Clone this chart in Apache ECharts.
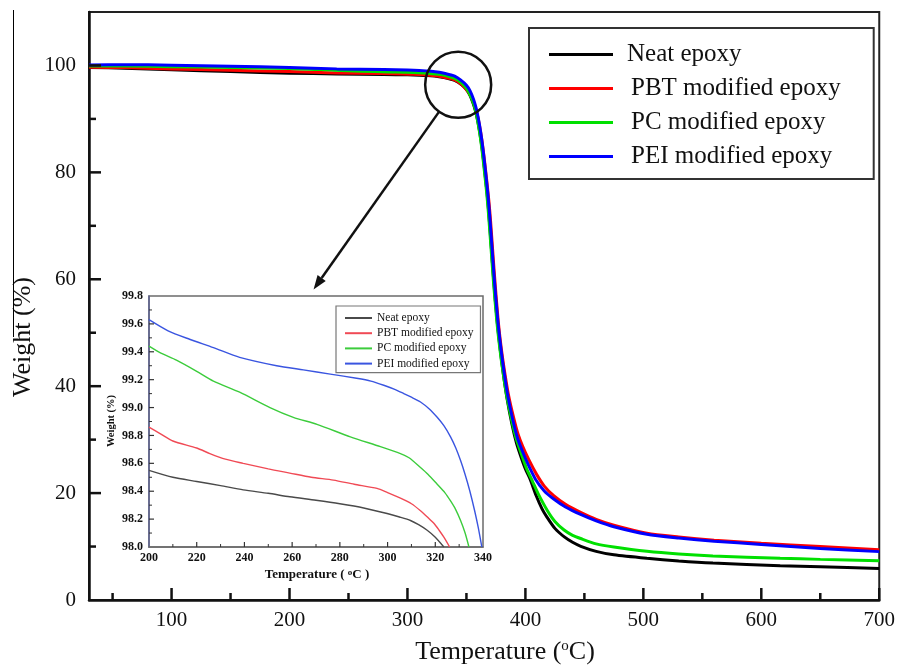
<!DOCTYPE html>
<html>
<head>
<meta charset="utf-8">
<script src="https://cdn.jsdelivr.net/npm/echarts@6/dist/echarts.min.js"></script>
<style>
  html, body { margin: 0; padding: 0; background: #fff; }
  #chart { width: 898px; height: 668px; }
</style>
</head>
<body>
<div id="chart"></div>
<script>
// TGA curves: weight loss of neat and thermoplastic-modified epoxy
const seriesNames = ['Neat epoxy', 'PBT modified epoxy', 'PC modified epoxy', 'PEI modified epoxy'];

// Full range 30-700 °C: [temperature °C, weight %]
const neatMain = [[30,99.6],[60,99.5],[100,99.2],[150,98.85],[200,98.55],[240,98.41],[280,98.31],[300,98.24],[310,98.19],[317,98.12],[324,98.0],[332,97.7],[340,97.2],[346,96.4],[350,95.5],[353,94.4],[355.5,93.0],[357.5,91.6],[359.5,89.7],[361.5,87.2],[363.5,84.1],[365.5,80.3],[367.5,76.1],[369,72.3],[371,66.3],[373.2,59.6],[376,52.3],[378.8,46.6],[381.5,42.0],[384.5,37.6],[388.5,33.0],[392.5,29.3],[396.5,26.6],[400,24.5],[404,22.6],[409,19.6],[414,17.1],[418,15.6],[425,13.4],[433,11.8],[440,10.8],[447,10.05],[460,9.1],[475,8.45],[503,7.8],[530,7.3],[559,6.9],[616,6.4],[650,6.2],[700,5.9]];
const pbtMain = [[30,99.65],[60,99.6],[100,99.35],[150,99.1],[200,98.86],[240,98.6],[277,98.48],[296,98.42],[305,98.35],[314,98.26],[319.4,98.17],[323.6,98.07],[326,98.0],[333,97.7],[340,97.3],[346,96.4],[351,95.2],[354,94.2],[357,92.6],[359,91.0],[361,88.9],[363,86.2],[365,82.8],[367,78.9],[369,74.7],[370.5,70.8],[372.5,64.6],[374.6,58.4],[377.3,51.4],[380,46.3],[382.8,42.1],[385.8,38.2],[389.8,34.3],[393.8,31.0],[397.6,28.8],[403,26.2],[409.5,23.5],[416,21.3],[424,19.5],[434,17.9],[446.8,16.4],[460,15.1],[475,14.0],[503,12.5],[530,11.8],[560,11.2],[600,10.6],[650,10.0],[700,9.4]];
const pcMain = [[30,99.9],[60,99.88],[100,99.78],[150,99.62],[200,99.44],[238,99.11],[260.5,98.93],[284.4,98.79],[297,98.72],[305.4,98.67],[313.8,98.57],[320.8,98.45],[326.4,98.33],[330.6,98.19],[334.1,98.0],[340,97.6],[345,96.9],[349,96.0],[352,95.0],[355,93.5],[357.2,92.0],[359.2,90.0],[361.2,87.4],[363.2,84.2],[365.2,80.3],[367.2,76.1],[368.7,72.3],[370.7,66.3],[372.9,59.6],[375.7,52.3],[378.5,46.7],[381.2,42.3],[384.2,38.1],[388.2,33.8],[392.2,30.2],[396,27.7],[401,24.6],[406,22.2],[411,19.8],[418.7,16.7],[425,14.7],[432.8,13.1],[440,12.1],[446.8,11.5],[460,10.5],[475,9.9],[503,9.1],[530,8.6],[559,8.25],[616,7.8],[650,7.6],[700,7.35]];
const peiMain = [[30,100.1],[60,100.15],[100,100.05],[150,99.85],[200,99.63],[240,99.36],[280,99.23],[300,99.14],[310,99.06],[320,98.92],[327,98.73],[332,98.5],[336,98.26],[340,98.0],[345,97.3],[350,96.3],[353,95.3],[356,93.7],[358,92.2],[360,90.2],[362,87.6],[364,84.4],[366,80.5],[368,76.3],[369.5,72.5],[371.5,66.5],[373.7,59.8],[376.5,52.5],[379.3,46.9],[382,42.5],[385,38.3],[389,34.0],[393,30.5],[396.8,28.2],[402,25.5],[408.5,22.6],[416,20.4],[424,18.9],[434,17.4],[446.8,16.0],[460,14.8],[475,13.7],[503,12.3],[530,11.6],[560,11.0],[600,10.4],[650,9.65],[700,9.05]];

// Enlarged onset region 200-340 °C
const neatInset = [[200,98.55],[210,98.5],[220,98.47],[230,98.44],[239.5,98.41],[250,98.385],[259,98.36],[270,98.335],[280,98.31],[290,98.28],[299.8,98.24],[305,98.215],[309.6,98.19],[313,98.16],[316.6,98.12],[320,98.07],[323.6,98.0]];
const pbtInset = [[200,98.86],[205,98.81],[210,98.76],[220,98.71],[225.5,98.67],[232,98.63],[239.5,98.60],[250,98.56],[259,98.53],[268,98.5],[277.3,98.48],[286,98.45],[295.6,98.42],[300,98.39],[305.4,98.35],[310,98.31],[313.8,98.26],[317,98.21],[319.4,98.17],[321.6,98.12],[323.6,98.07],[326,98.0]];
const pcInset = [[200,99.44],[205,99.39],[211.5,99.34],[220,99.26],[227,99.19],[238,99.11],[250.7,99.0],[260.5,98.93],[270.4,98.88],[284.4,98.79],[297,98.72],[305.4,98.67],[309,98.64],[313.8,98.57],[317,98.52],[320.8,98.45],[324,98.39],[326.4,98.33],[328.5,98.27],[330.6,98.19],[332.5,98.1],[334.1,98.0]];
const peiInset = [[200,99.63],[208,99.55],[217,99.49],[227,99.43],[238,99.36],[253.5,99.30],[264.7,99.27],[276,99.24],[287,99.21],[293,99.19],[298.4,99.16],[303,99.13],[306.8,99.10],[310.5,99.07],[313.8,99.04],[317.5,98.99],[320.8,98.93],[323.6,98.87],[326.4,98.79],[328.6,98.71],[330.6,98.62],[332.5,98.52],[334.5,98.4],[336.5,98.26],[338,98.14],[339.5,98.0]];

// Tick positions (main axes, then inset axes)
const xMajorTicks = [100, 200, 300, 400, 500, 600, 700];
const xMinorTicks = [50, 150, 250, 350, 450, 550, 650];
const yMajorTicks = [0, 20, 40, 60, 80, 100];
const yMinorTicks = [10, 30, 50, 70, 90];
const insetXMajorTicks = [200, 220, 240, 260, 280, 300, 320, 340];
const insetXMinorTicks = [210, 230, 250, 270, 290, 310, 330];
const insetYMajorTicks = [98.0, 98.2, 98.4, 98.6, 98.8, 99.0, 99.2, 99.4, 99.6, 99.8];
const insetYMinorTicks = [98.1, 98.3, 98.5, 98.7, 98.9, 99.1, 99.3, 99.5, 99.7];

const mainColors = ['#000000', '#ff0000', '#00e000', '#0000ff'];
const insetColors = ['#4a4a4a', '#f04a55', '#3ccc3c', '#3a55e0'];

const SERIF = '"Liberation Serif", "Times New Roman", serif';
const INK = '#111';

const chart = echarts.init(document.getElementById('chart'), null, { renderer: 'canvas' });

const mainData = [neatMain, pbtMain, pcMain, peiMain];
const insetData = [neatInset, pbtInset, pcInset, peiInset];

const series = [];
seriesNames.forEach((name, i) => {
  series.push({
    name, type: 'line', xAxisIndex: 0, yAxisIndex: 0,
    data: mainData[i], showSymbol: false, smooth: 0.25,
    lineStyle: { color: mainColors[i], width: 3 }, itemStyle: { color: mainColors[i] },
    z: 2 + i, animation: false
  });
});
seriesNames.forEach((name, i) => {
  series.push({
    name, type: 'line', xAxisIndex: 1, yAxisIndex: 1,
    data: insetData[i], showSymbol: false, smooth: 0.25,
    lineStyle: { color: insetColors[i], width: 1.4 }, itemStyle: { color: insetColors[i] },
    z: 2 + i, animation: false
  });
});

const insetAxisColor = '#6b6b6b';

const option = {
  animation: false,
  backgroundColor: '#ffffff',
  grid: [
    { left: 89, top: 12, right: 17, bottom: 68, show: true, borderColor: '#222', borderWidth: 2, backgroundColor: 'transparent' },
    { left: 149, top: 296, right: 415, bottom: 121, show: true, borderColor: insetAxisColor, borderWidth: 1.5, backgroundColor: 'transparent' }
  ],
  xAxis: [
    {
      gridIndex: 0, type: 'value', min: 30, max: 700,
      axisLine: { show: true, lineStyle: { color: INK, width: 2.5 } },
      axisTick: { show: false },
      axisLabel: { customValues: xMajorTicks, margin: 10, fontFamily: SERIF, fontSize: 21, color: INK },
      splitLine: { show: false }
    },
    {
      gridIndex: 1, type: 'value', min: 200, max: 340, interval: 20,
      axisLine: { show: true, lineStyle: { color: insetAxisColor, width: 1.5 } },
      axisTick: { show: false },
      axisLabel: { margin: 5, fontFamily: SERIF, fontSize: 12, fontWeight: 'bold', color: INK },
      splitLine: { show: false }
    }
  ],
  yAxis: [
    {
      gridIndex: 0, type: 'value', min: 0, max: 110,
      axisLine: { show: true, lineStyle: { color: INK, width: 2.5 } },
      axisTick: { show: false },
      axisLabel: { customValues: yMajorTicks, margin: 13, fontFamily: SERIF, fontSize: 21, color: INK },
      splitLine: { show: false }
    },
    {
      gridIndex: 1, type: 'value', min: 98.0, max: 99.8, interval: 0.2,
      axisLine: { show: true, lineStyle: { color: '#5d6290', width: 1.5 } },
      axisTick: { show: false },
      axisLabel: { margin: 6, fontFamily: SERIF, fontSize: 12, fontWeight: 'bold', color: INK, formatter: v => v.toFixed(1) },
      splitLine: { show: false }
    }
  ],
  legend: [
    {
      orient: 'vertical', left: 529, top: 28, padding: [14, 33, 10, 20],
      itemWidth: 64, itemHeight: 3, itemGap: 9, icon: 'rect',
      borderColor: '#333', borderWidth: 2, backgroundColor: '#fff',
      textStyle: { fontFamily: SERIF, fontSize: 25, lineHeight: 25, color: INK, padding: [0, 0, 0, 9] },
      data: seriesNames.map((name, i) => ({
        name,
        itemStyle: { color: mainColors[i] },
        textStyle: i === 0 ? {} : { padding: [0, 0, 0, 13] }
      }))
    },
    {
      orient: 'vertical', left: 336, top: 306, padding: [6, 7, 3, 9],
      itemWidth: 27, itemHeight: 2, itemGap: 3.2, icon: 'rect',
      borderColor: '#777', borderWidth: 1.2, backgroundColor: '#fff',
      textStyle: { fontFamily: SERIF, fontSize: 11.5, lineHeight: 11.5, color: INK },
      data: seriesNames.map((name, i) => ({ name, itemStyle: { color: insetColors[i] } }))
    }
  ],
  series
};

chart.setOption(option);

// Inward tick marks placed through the axes' own scales
const graphics = [];
function addTicks(gridIndex, axis, values, length, width, color) {
  const origin = chart.convertToPixel({ gridIndex }, [
    gridIndex === 0 ? 30 : 200,
    gridIndex === 0 ? 0 : 98.0
  ]);
  values.forEach(v => {
    let shape;
    if (axis === 'x') {
      const p = chart.convertToPixel({ gridIndex }, [v, gridIndex === 0 ? 0 : 98.0]);
      shape = { x1: p[0], y1: origin[1], x2: p[0], y2: origin[1] - length };
    } else {
      const p = chart.convertToPixel({ gridIndex }, [gridIndex === 0 ? 30 : 200, v]);
      shape = { x1: origin[0], y1: p[1], x2: origin[0] + length, y2: p[1] };
    }
    graphics.push({ type: 'line', z: 9, shape, style: { stroke: color, lineWidth: width } });
  });
}
addTicks(0, 'x', xMajorTicks, 12, 2.5, INK);
addTicks(0, 'x', xMinorTicks, 7, 2.5, INK);
addTicks(0, 'y', yMajorTicks.filter(v => v > 0), 12, 2.5, INK);
addTicks(0, 'y', yMinorTicks, 7, 2.5, INK);
addTicks(1, 'x', insetXMajorTicks.slice(1, -1), 5, 1.2, '#333');
addTicks(1, 'x', insetXMinorTicks, 3, 1, '#333');
addTicks(1, 'y', insetYMajorTicks.slice(1, -1), 5, 1.2, '#333');
addTicks(1, 'y', insetYMinorTicks, 3, 1, '#333');

// Axis titles, zoom circle and arrow pointing to the enlarged view
const c = chart.convertToPixel({ gridIndex: 0 }, [343, 96.4]);
const tip = chart.convertToPixel({ gridIndex: 0 }, [220.4, 58.1]);
const r = 33;
const dx = tip[0] - c[0], dy = tip[1] - c[1];
const len = Math.hypot(dx, dy);
const ux = dx / len, uy = dy / len;
const start = [c[0] + ux * r, c[1] + uy * r];
const headLen = 14, headHalf = 5;
const base = [tip[0] - ux * headLen, tip[1] - uy * headLen];
const px = -uy, py = ux;

graphics.push(
  {
    type: 'text', x: 505, y: 652, z: 10,
    style: {
      text: 'Temperature ({s|o}C)', fontFamily: SERIF, fontSize: 26, fill: INK,
      align: 'center', verticalAlign: 'middle',
      rich: { s: { fontFamily: SERIF, fontSize: 15, fill: INK, verticalAlign: 'top' } }
    }
  },
  {
    type: 'text', x: 23, y: 337, rotation: Math.PI / 2, z: 10,
    style: { text: 'Weight (%)', fontFamily: SERIF, fontSize: 26, fill: INK, align: 'center', verticalAlign: 'middle' }
  },
  {
    type: 'text', x: 317, y: 575, z: 10,
    style: {
      text: 'Temperature ( {s|o}C )', fontFamily: SERIF, fontSize: 13, fontWeight: 'bold', fill: INK,
      align: 'center', verticalAlign: 'middle',
      rich: { s: { fontFamily: SERIF, fontSize: 9, fontWeight: 'bold', fill: INK, verticalAlign: 'top' } }
    }
  },
  {
    type: 'text', x: 111, y: 421, rotation: Math.PI / 2, z: 10,
    style: { text: 'Weight (%)', fontFamily: SERIF, fontSize: 10.5, fontWeight: 'bold', fill: INK, align: 'center', verticalAlign: 'middle' }
  },
  {
    type: 'line', z: 10,
    shape: { x1: 13.5, y1: 10, x2: 13.5, y2: 337 },
    style: { stroke: '#000', lineWidth: 1 }
  },
  {
    type: 'circle', z: 10,
    shape: { cx: c[0], cy: c[1], r },
    style: { fill: 'none', stroke: '#111', lineWidth: 2.5 }
  },
  {
    type: 'line', z: 10,
    shape: { x1: start[0], y1: start[1], x2: base[0], y2: base[1] },
    style: { stroke: '#111', lineWidth: 2.5 }
  },
  {
    type: 'polygon', z: 10,
    shape: { points: [tip, [base[0] + px * headHalf, base[1] + py * headHalf], [base[0] - px * headHalf, base[1] - py * headHalf]] },
    style: { fill: '#111' }
  }
);

chart.setOption({ graphic: graphics });
</script>
</body>
</html>
